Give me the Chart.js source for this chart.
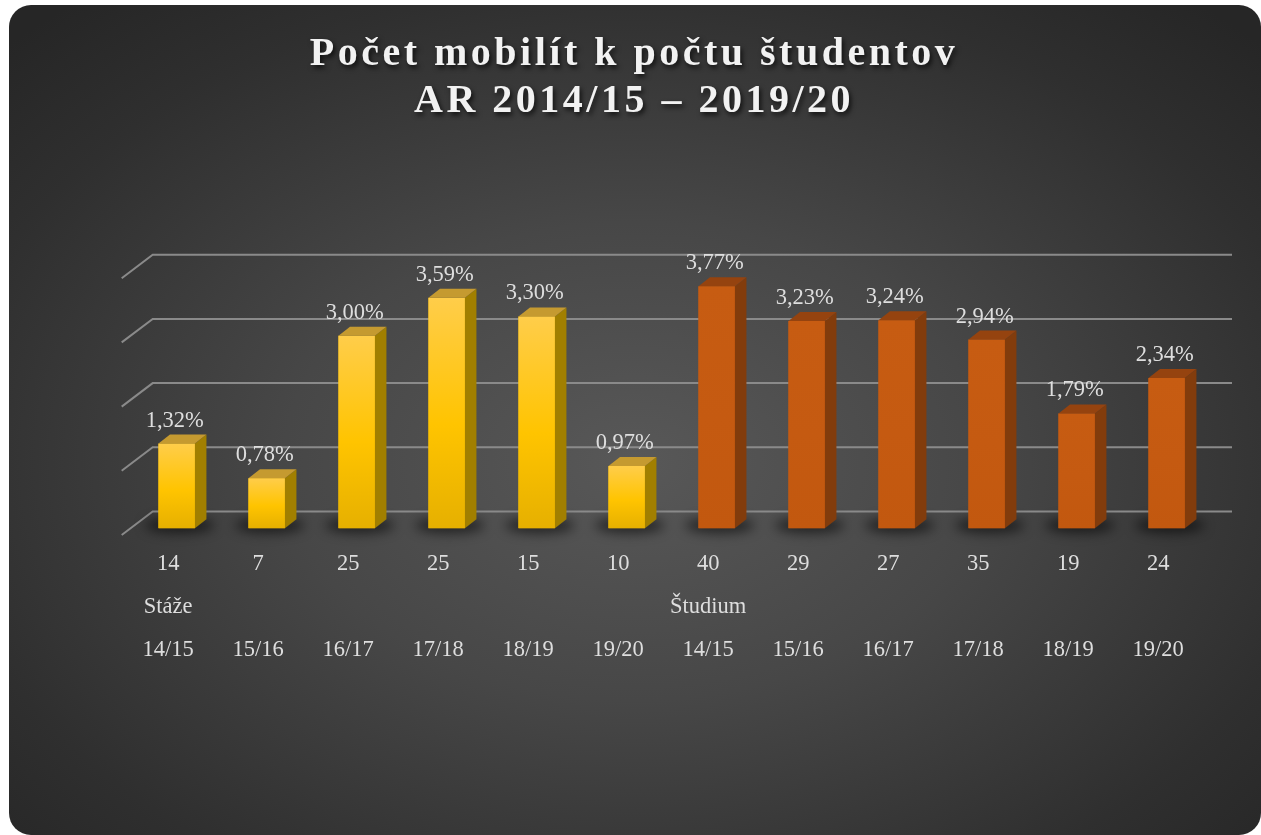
<!DOCTYPE html>
<html>
<head>
<meta charset="utf-8">
<script src="https://cdn.jsdelivr.net/npm/chart.js@4.4.1/dist/chart.umd.min.js"></script>
<style>
  html, body { margin: 0; padding: 0; background: #ffffff; width: 1261px; height: 835px; overflow: hidden; }
  #card {
    position: absolute; left: 9px; top: 5px; width: 1252px; height: 830px;
    border-radius: 22px; overflow: hidden;
    background: radial-gradient(ellipse 70% 72% at 50% 55%, #585858 0%, #474747 40%, #2f2f2f 80%, #262626 100%);
  }
  canvas { position: absolute; left: 0; top: 0; }
</style>
</head>
<body>
<div id="card"><canvas id="chart" width="1252" height="830" style="width:1252px;height:830px"></canvas></div>
<script>
// ---- data ----
const titleLines   = ['Počet mobilít k počtu študentov', 'AR 2014/15 – 2019/20'];
const groupNames   = ['Stáže', 'Študium'];
const years        = ['14/15', '15/16', '16/17', '17/18', '18/19', '19/20'];
const stazePct     = [1.32, 0.78, 3.00, 3.59, 3.30, 0.97];
const studiumPct   = [3.77, 3.23, 3.24, 2.94, 1.79, 2.34];
const stazeCount   = [14, 7, 25, 25, 15, 10];
const studiumCount = [40, 29, 27, 35, 19, 24];
const yTicks       = [0, 1, 2, 3, 4];

// ---- build ----
const values = [...stazePct, ...studiumPct];
const counts = [...stazeCount, ...studiumCount];
const labels = [];
groupNames.forEach((g, gi) => {
  years.forEach((y, yi) => {
    labels.push([String(counts[gi * years.length + yi]), yi === 0 ? g : '', y]);
  });
});

const palettes = [
  { front: ['#ffcd4a', '#ffc400', '#e6b000'], side: '#a17f00', top: '#c59a30' },
  { front: ['#c75c12', '#c55a11', '#c2580f'], side: '#823c0c', top: '#95430f' }
];
const barColors = values.map((v, i) => palettes[i < years.length ? 0 : 1].front[1]);

const DX = 11.5, DY = 9, BACK_DY = 16.8;
const labelFont = '22.5px "Liberation Serif"';
const textColor = '#dedede';

const fmtPct = v => v.toFixed(2).replace('.', ',') + '%';

const threeD = {
  id: 'threeD',
  beforeDraw(chart) {
    const ctx = chart.ctx;
    ctx.save();
    ctx.letterSpacing = '3.5px';
    ctx.shadowColor = 'rgba(0,0,0,0.7)';
    ctx.shadowBlur = 5;
    ctx.shadowOffsetX = 2;
    ctx.shadowOffsetY = 3;
  },
  beforeDatasetsDraw(chart) {
    const ctx = chart.ctx;
    ctx.restore();
    ctx.letterSpacing = '0px';
    ctx.shadowColor = 'rgba(0,0,0,0)';
    ctx.shadowBlur = 0;
    ctx.shadowOffsetX = 0;
    ctx.shadowOffsetY = 0;
    const { left, right } = chart.chartArea;
    const ys = chart.scales.y;
    ctx.save();
    ctx.strokeStyle = '#8a8a8a';
    ctx.lineWidth = 2;
    yTicks.forEach(v => {
      const yb = ys.getPixelForValue(v) - BACK_DY;
      ctx.beginPath();
      ctx.moveTo(left - 10, yb + 23.5);
      ctx.lineTo(left + 21, yb);
      ctx.lineTo(right + 20.3, yb);
      ctx.stroke();
    });
    ctx.restore();
    const meta = chart.getDatasetMeta(0);
    meta.data.forEach(bar => {
      ctx.save();
      ctx.filter = 'blur(6px)';
      ctx.fillStyle = 'rgba(0,0,0,0.55)';
      ctx.beginPath();
      ctx.ellipse(bar.x + 3, bar.base - 3, bar.width * 0.95, 8, 0, 0, Math.PI * 2);
      ctx.fill();
      ctx.restore();
    });
  },
  afterDatasetsDraw(chart) {
    const ctx = chart.ctx;
    const meta = chart.getDatasetMeta(0);
    meta.data.forEach((bar, i) => {
      const pal = palettes[i < years.length ? 0 : 1];
      const x0 = bar.x - bar.width / 2, x1 = bar.x + bar.width / 2;
      const yt = bar.y, yb = bar.base;
      ctx.save();
      const g = ctx.createLinearGradient(0, yt, 0, yb);
      g.addColorStop(0, pal.front[0]);
      g.addColorStop(0.55, pal.front[1]);
      g.addColorStop(1, pal.front[2]);
      ctx.fillStyle = g;
      ctx.fillRect(x0, yt, x1 - x0, yb - yt);
      // side face
      ctx.fillStyle = pal.side;
      ctx.beginPath();
      ctx.moveTo(x1, yt);
      ctx.lineTo(x1 + DX, yt - DY);
      ctx.lineTo(x1 + DX, yb - DY);
      ctx.lineTo(x1, yb);
      ctx.closePath();
      ctx.fill();
      // top face
      ctx.fillStyle = pal.top;
      ctx.beginPath();
      ctx.moveTo(x0, yt);
      ctx.lineTo(x0 + DX, yt - DY);
      ctx.lineTo(x1 + DX, yt - DY);
      ctx.lineTo(x1, yt);
      ctx.closePath();
      ctx.fill();
      ctx.restore();
      // value label
      ctx.save();
      ctx.font = labelFont;
      ctx.fillStyle = textColor;
      ctx.textAlign = 'center';
      ctx.textBaseline = 'alphabetic';
      ctx.fillText(fmtPct(values[i]), bar.x - 2, yt - 17);
      ctx.restore();
    });
  }
};

new Chart(document.getElementById('chart'), {
  type: 'bar',
  data: {
    labels: labels,
    datasets: [{
      data: values,
      backgroundColor: barColors,
      borderWidth: 0,
      barPercentage: 0.405,
      categoryPercentage: 1.0
    }]
  },
  options: {
    responsive: false,
    animation: false,
    events: [],
    layout: { padding: { left: 47.3, right: 49.3, top: 0, bottom: 162.7 } },
    plugins: {
      legend: { display: false },
      tooltip: { enabled: false },
      title: {
        display: true,
        text: titleLines,
        color: '#f2f2f2',
        font: { family: '"Liberation Serif"', size: 40, weight: 'bold', lineHeight: 1.18 },
        padding: { top: 25.9, bottom: 146.2 }
      }
    },
    scales: {
      x: {
        grid: { display: false, drawTicks: false },
        border: { display: false },
        ticks: {
          z: 1,
          color: textColor,
          font: { family: '"Liberation Serif"', size: 22.5, lineHeight: 1.925 },
          padding: 14,
          labelOffset: -8.5,
          maxRotation: 0,
          autoSkip: false
        },
        afterFit(s) { s.height = 144; }
      },
      y: {
        min: 0,
        max: 4,
        grid: { display: false, drawTicks: false },
        border: { display: false },
        ticks: { display: false },
        afterFit(s) { s.width = 75.4; }
      }
    }
  },
  plugins: [threeD]
});
</script>
</body>
</html>
